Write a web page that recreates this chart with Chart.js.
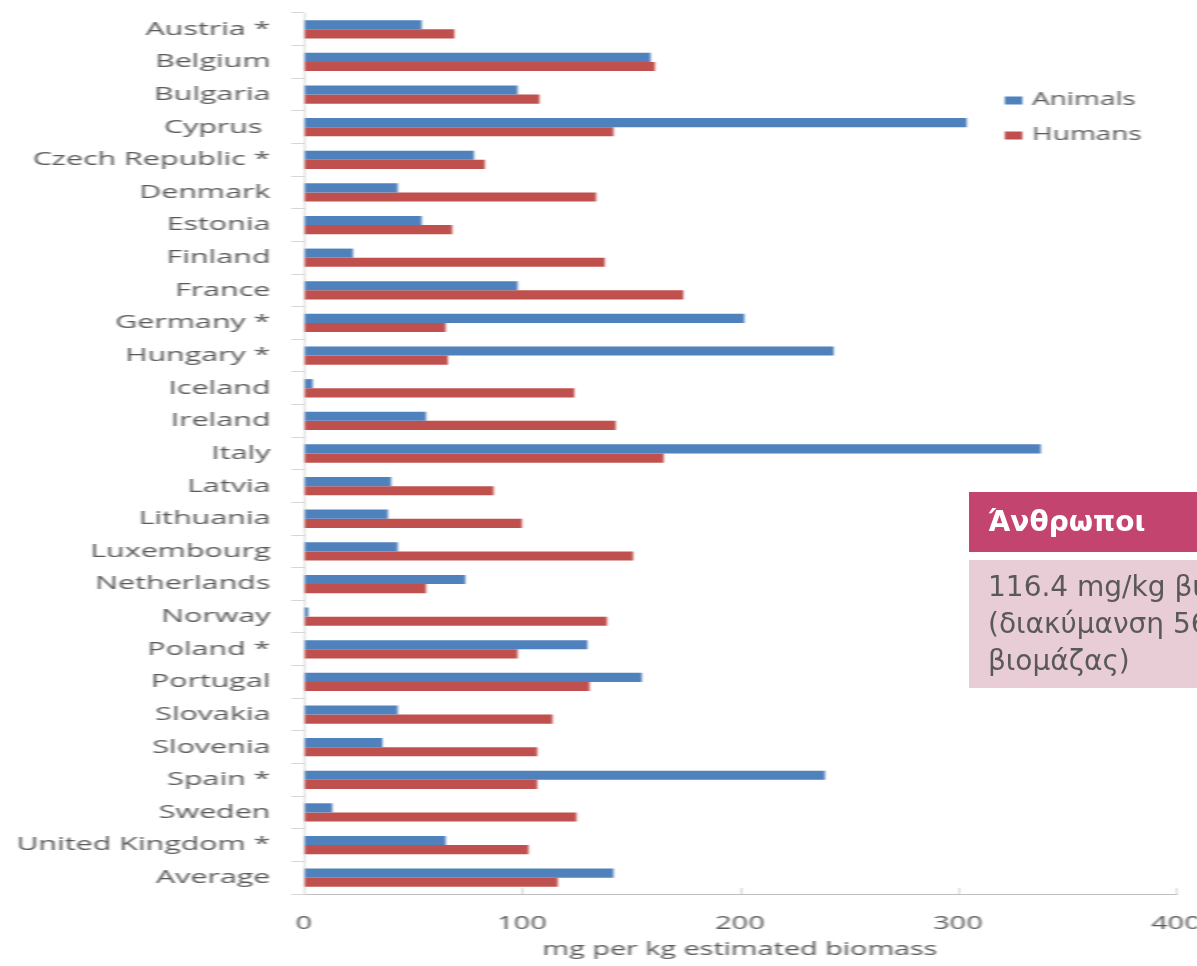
<!DOCTYPE html>
<html>
<head>
<meta charset="utf-8">
<script src="https://cdn.jsdelivr.net/npm/chart.js@4/dist/chart.umd.min.js"></script>
<style>
  html, body { margin: 0; padding: 0; background: #fff; width: 1197px; height: 966px; overflow: hidden; }
  #plot { position: absolute; left: 0; top: 0; width: 748px; height: 966px;
          transform: scaleX(1.6); transform-origin: 0 0; }
  #plot canvas { filter: blur(0.6px); }
  #note { position: absolute; left: 969px; top: 492px; width: 420px;
          font-family: "DejaVu Sans", sans-serif; }
  #note .head { background: #c3446f; color: #fff; font-weight: bold; font-size: 28px;
                height: 60px; line-height: 60px; padding-left: 19px; white-space: nowrap; }
  #note .body { margin-top: 8px; background: #e8ccd6; color: #595959; font-size: 28px;
                line-height: 37px; height: 128px; box-sizing: border-box;
                padding: 8px 0 0 19px; white-space: nowrap; }
</style>
</head>
<body>
<div id="plot"><canvas id="chart" width="748" height="966"></canvas></div>
<div id="note">
  <div class="head">Άνθρωποι</div>
  <div class="body">116.4 mg/kg βιομάζας<br>(διακύμανση 56-174 mg/kg<br>βιομάζας)</div>
</div>
<script>
// Antimicrobial sales per country, mg per kg of estimated biomass
const categories = ['Austria *', 'Belgium', 'Bulgaria', 'Cyprus ', 'Czech Republic *', 'Denmark',
  'Estonia', 'Finland', 'France', 'Germany *', 'Hungary *', 'Iceland', 'Ireland', 'Italy',
  'Latvia', 'Lithuania', 'Luxembourg', 'Netherlands', 'Norway', 'Poland *', 'Portugal',
  'Slovakia', 'Slovenia', 'Spain *', 'Sweden', 'United Kingdom *', 'Average'];
const animals = [54, 159, 98, 304, 78, 43, 54, 22.5, 98, 202, 243, 4, 56, 338, 40, 38.5, 43,
  74, 2, 130, 155, 43, 36, 239, 13, 65, 142];
const humans = [69, 161, 108, 142, 83, 134, 68, 138, 174, 65, 66, 124, 143, 165, 87, 100, 151,
  56, 139, 98, 131, 114, 107, 107, 125, 103, 116.4];
const seriesNames = ['Animals', 'Humans'];
const xTicks = [0, 100, 200, 300, 400];
const xTitle = 'mg per kg estimated biomass';

const textColor = '#595959';
const fontFamily = '"Open Sans", sans-serif';

// Legend drawn as two stacked swatches inside the plot area
const sideLegend = {
  id: 'sideLegend',
  afterDraw(chart, args, opts) {
    const ctx = chart.ctx;
    ctx.save();
    ctx.font = `${opts.size}px ${fontFamily}`;
    ctx.textBaseline = 'middle';
    ctx.textAlign = 'left';
    chart.data.datasets.forEach((ds, i) => {
      const y = opts.top + i * opts.gap;
      ctx.fillStyle = ds.backgroundColor;
      ctx.fillRect(opts.left, y - 4, 11, 8);
      ctx.fillStyle = textColor;
      ctx.fillText(ds.label, opts.left + 17, y);
    });
    ctx.restore();
  }
};

// Short tick marks rising from the value axis line
const valueTicks = {
  id: 'valueTicks',
  afterDraw(chart) {
    const sx = chart.scales.x;
    const ctx = chart.ctx;
    const yb = chart.chartArea.bottom;
    ctx.save();
    ctx.strokeStyle = '#cfcfcf';
    ctx.lineWidth = 1;
    xTicks.slice(1).forEach(v => {
      const px = Math.round(sx.getPixelForValue(v)) + 0.5;
      ctx.beginPath();
      ctx.moveTo(px, yb);
      ctx.lineTo(px, yb - 6);
      ctx.stroke();
    });
    ctx.restore();
  }
};

new Chart(document.getElementById('chart'), {
  type: 'bar',
  data: {
    labels: categories,
    datasets: [
      { label: seriesNames[0], data: animals, backgroundColor: '#4f81bd' },
      { label: seriesNames[1], data: humans, backgroundColor: '#c0504d' }
    ]
  },
  options: {
    indexAxis: 'y',
    responsive: false,
    devicePixelRatio: 1,
    animation: false,
    layout: { padding: { left: 0, right: 13, top: 13, bottom: 0 } },
    datasets: { bar: { categoryPercentage: 0.56, barPercentage: 1.0 } },
    plugins: {
      legend: { display: false },
      tooltip: { enabled: false },
      sideLegend: { left: 628, top: 100.5, gap: 35, size: 17.5 }
    },
    scales: {
      x: {
        type: 'linear',
        min: 0,
        max: 400,
        afterBuildTicks(scale) { scale.ticks = xTicks.map(v => ({ value: v })); },
        afterFit(scale) { scale.height = 72; scale.paddingLeft = 0; scale.paddingRight = 0; },
        ticks: { color: textColor, font: { family: fontFamily, size: 18 }, padding: 19, maxRotation: 0 },
        grid: { drawOnChartArea: false, drawTicks: false },
        border: { display: true, color: '#bfbfbf', width: 1 },
        title: { display: true, text: xTitle, color: textColor,
                 font: { family: fontFamily, size: 18 }, padding: { top: 0, bottom: 5 } }
      },
      y: {
        afterFit(scale) { scale.width = 190; scale.paddingTop = 0; scale.paddingBottom = 0; },
        ticks: { color: textColor, font: { family: fontFamily, size: 19 }, padding: 13, autoSkip: false },
        grid: { drawOnChartArea: false, drawTicks: true, tickLength: 8, color: '#d6d6d6', offset: true },
        border: { display: true, color: '#d6d6d6', width: 1 }
      }
    }
  },
  plugins: [sideLegend, valueTicks]
});
</script>
</body>
</html>
